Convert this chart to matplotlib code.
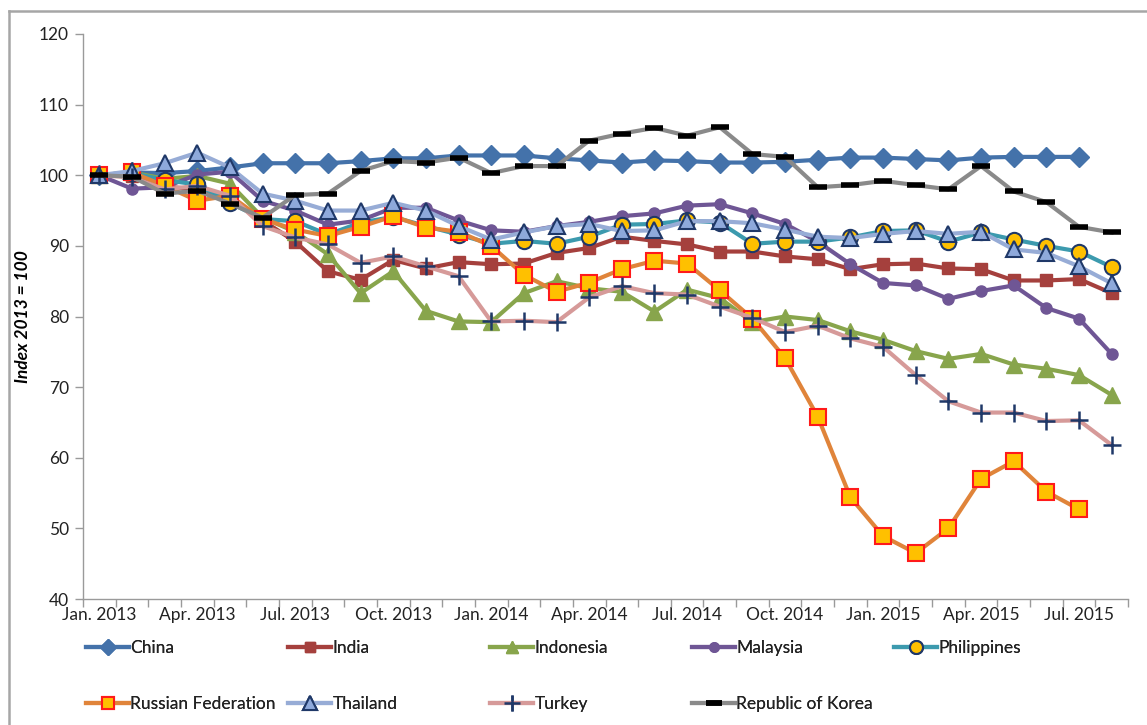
import matplotlib
matplotlib.use("Agg")
import matplotlib.pyplot as plt
from matplotlib.lines import Line2D
import numpy as np

plt.rcParams['font.family'] = ['Lato', 'DejaVu Sans']

months = ["Jan. 2013", "Feb. 2013", "Mar. 2013", "Apr. 2013", "May 2013", "Jun. 2013",
          "Jul. 2013", "Aug. 2013", "Sep. 2013", "Oct. 2013", "Nov. 2013", "Dec. 2013",
          "Jan. 2014", "Feb. 2014", "Mar. 2014", "Apr. 2014", "May 2014", "Jun. 2014",
          "Jul. 2014", "Aug. 2014", "Sep. 2014", "Oct. 2014", "Nov. 2014", "Dec. 2014",
          "Jan. 2015", "Feb. 2015", "Mar. 2015", "Apr. 2015", "May 2015", "Jun. 2015",
          "Jul. 2015", "Aug. 2015"]

china = [100, 100.4, 100.3, 100.6, 101.1, 101.7, 101.7, 101.7, 102.0, 102.4, 102.4, 102.8,
         102.8, 102.8, 102.4, 102.1, 101.8, 102.1, 102.0, 101.8, 101.8, 101.9, 102.2, 102.5,
         102.5, 102.3, 102.1, 102.5, 102.6, 102.6, 102.6]
india = [100, 99.9, 98.4, 98.0, 97.0, 93.6, 90.6, 86.4, 85.2, 88.0, 86.8, 87.7,
         87.4, 87.5, 89.0, 89.7, 91.3, 90.7, 90.2, 89.2, 89.2, 88.5, 88.1, 86.7,
         87.4, 87.5, 86.8, 86.7, 85.1, 85.1, 85.3, 83.3]
indonesia = [100, 100.4, 99.5, 99.9, 98.8, 94.0, 92.0, 88.8, 83.3, 86.4, 80.8, 79.3,
             79.2, 83.3, 85.0, 84.0, 83.5, 80.7, 83.8, 82.6, 79.2, 80.0, 79.5, 77.9,
             76.7, 75.1, 74.0, 74.7, 73.2, 72.6, 71.7, 68.9]
malaysia = [100, 98.1, 98.3, 100.1, 100.5, 96.4, 95.0, 93.0, 93.6, 95.4, 95.4, 93.6,
            92.2, 92.0, 92.8, 93.4, 94.2, 94.6, 95.7, 95.9, 94.6, 93.1, 90.6, 87.4,
            84.75, 84.4, 82.5, 83.6, 84.4, 81.2, 79.7, 74.7]
philippines = [100, 100.3, 99.3, 98.7, 96.1, 93.8, 93.5, 91.6, 93.3, 94.1, 92.8, 91.6,
               90.3, 90.7, 90.3, 91.3, 93.0, 93.1, 93.6, 93.3, 90.3, 90.6, 90.6, 91.2,
               92.1, 92.2, 90.6, 91.9, 90.9, 90.0, 89.2, 87.0]
russia = [100, 100.4, 98.5, 96.4, 97.1, 93.8, 92.3, 91.4, 92.7, 94.2, 92.6, 92.0,
          90.0, 85.9, 83.5, 84.8, 86.7, 87.9, 87.5, 83.7, 79.7, 74.1, 65.8, 54.4,
          48.9, 46.5, 50.0, 57.0, 59.5, 55.2, 52.7]
thailand = [100, 100.6, 101.7, 103.2, 101.1, 97.4, 96.4, 95.0, 95.0, 96.1, 95.0, 92.8,
            90.9, 91.9, 92.8, 93.1, 92.1, 92.2, 93.5, 93.5, 93.2, 92.3, 91.3, 91.1,
            91.7, 92.1, 91.7, 92.0, 89.5, 89.0, 87.1, 84.7]
turkey = [100, 99.7, 98.0, 98.5, 97.1, 92.8, 91.2, 90.2, 87.6, 88.5, 87.1, 85.7,
          79.3, 79.4, 79.2, 82.7, 84.3, 83.3, 83.1, 81.4, 79.8, 77.8, 78.7, 76.9,
          75.7, 71.7, 68.0, 66.4, 66.4, 65.2, 65.3, 61.8]
korea = [100, 99.8, 97.4, 97.8, 96.0, 94.0, 97.2, 97.4, 100.6, 102.0, 101.8, 102.5,
         100.3, 101.3, 101.3, 104.9, 105.9, 106.7, 105.6, 106.8, 103.0, 102.6, 98.3, 98.6,
         99.2, 98.6, 98.0, 101.3, 97.7, 96.2, 92.7, 91.9]

series = [
    ("China", china, dict(color="#4472AA", marker="D", ms=10, mfc="#4472AA", mec="#4472AA", mew=1)),
    ("India", india, dict(color="#A5403D", marker="s", ms=8, mfc="#A5403D", mec="#A5403D", mew=1)),
    ("Indonesia", indonesia, dict(color="#88A54C", marker="^", ms=11, mfc="#88A54C", mec="#88A54C", mew=1)),
    ("Malaysia", malaysia, dict(color="#6F5695", marker="o", ms=8, mfc="#6F5695", mec="#6F5695", mew=1)),
    ("Philippines", philippines, dict(color="#3C9AAE", marker="o", ms=11, mfc="#FFC000", mec="#1F3868", mew=1.5)),
    ("Russian Federation", russia, dict(color="#E0843A", marker="s", ms=11, mfc="#FFC000", mec="#FF1A1A", mew=1.5)),
    ("Thailand", thailand, dict(color="#97ACD6", marker="^", ms=12, mfc="#8EA9DB", mec="#1F3868", mew=1.5)),
    ("Turkey", turkey, dict(color="#D69A99", marker="+", ms=13, mfc="#1F3868", mec="#1F3868", mew=1.8)),
    ("Republic of Korea", korea, dict(color="#8A8A8A", marker="_", ms=13, mfc="black", mec="black", mew=4)),
]

W, H = 1147, 725
fig = plt.figure(figsize=(W/100, H/100), dpi=100)
ax = fig.add_axes([83/W, 1-599/H, (1128-83)/W, (599-34)/H])

handles = []
for name, vals, st in series:
    x = np.arange(len(vals))
    h, = ax.plot(x, vals, lw=3, label=name, solid_joinstyle="round", **st)
    handles.append(h)

ax.set_xlim(-0.5, len(months) - 0.5)
ax.set_ylim(40, 120)
ax.set_yticks(np.arange(40, 121, 10))
ax.set_xticks(np.arange(0, len(months), 3))
ax.set_xticklabels([months[i] for i in range(0, len(months), 3)])
ax.set_xticks(np.arange(-0.5, len(months), 1), minor=True)
ax.tick_params(axis="x", which="major", length=0, pad=6, labelsize=12.5)
ax.tick_params(axis="x", which="minor", length=6, color="#9A9A9A", width=1)
ax.tick_params(axis="y", length=6, color="#9A9A9A", width=1, labelsize=12.5, pad=4)
for lab in ax.get_xticklabels() + ax.get_yticklabels():
    lab.set_color("#222222")
for s in ["top", "right"]:
    ax.spines[s].set_visible(False)
for s in ["left", "bottom"]:
    ax.spines[s].set_color("#9A9A9A")
    ax.spines[s].set_linewidth(1)

ax.set_ylabel("Index 2013 = 100", fontsize=12.5, fontweight="bold", fontstyle="italic", labelpad=6)

# legend: 5 equal-width columns, 2 rows (row-major order like the reference)
col_x = [86, 288, 490, 692, 894]
row_y = [648, 704]
for k, h in enumerate(handles):
    r, c = divmod(k, 5)
    leg = fig.legend(handles=[h], labels=[h.get_label()], loc="center left",
                     bbox_to_anchor=(col_x[c]/W, 1-row_y[r]/H), frameon=False,
                     fontsize=12.5, handlelength=2.5, handletextpad=0.05, borderaxespad=0,
                     borderpad=0)
    for lh in leg.legend_handles:
        lh.set_markersize(lh.get_markersize() * 0.85)
    for t in leg.get_texts():
        t.set_color("#222222")
    fig.add_artist(leg)

# chart area border
fig.add_artist(Line2D([9/W, 1.0], [1-11/H, 1-11/H], transform=fig.transFigure, color="#A6A6A6", lw=1.8))
fig.add_artist(Line2D([9/W, 9/W], [1-11/H, 0.0], transform=fig.transFigure, color="#A6A6A6", lw=1.8))

fig.savefig("out.png", dpi=100)
